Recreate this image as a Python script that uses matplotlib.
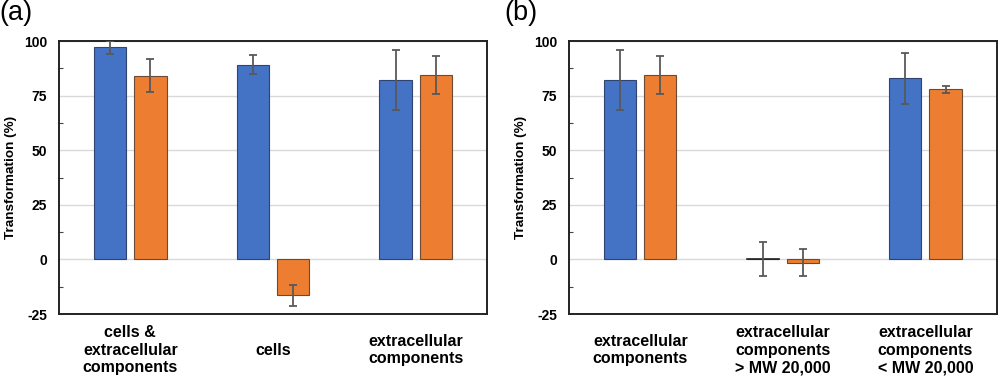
import matplotlib
matplotlib.use("Agg")
import matplotlib.pyplot as plt
import numpy as np

plt.rcParams['font.family'] = ['Liberation Sans', 'DejaVu Sans']

# Panel (a)
cats_a = ["cells &\nextracellular\ncomponents", "cells", "extracellular\ncomponents"]
blue_a = [97.1, 89.2, 82.2]
blue_err_a = [3.0, 4.5, 13.6]
orange_a = [84.1, -16.5, 84.4]
orange_err_a = [7.5, 5.0, 8.7]

# Panel (b)
cats_b = ["extracellular\ncomponents", "extracellular\ncomponents\n> MW 20,000",
          "extracellular\ncomponents\n< MW 20,000"]
blue_b = [82.3, 0.0, 82.9]
blue_err_b = [13.7, 7.8, 11.6]
orange_b = [84.4, -1.5, 78.0]
orange_err_b = [8.7, 6.3, 1.6]

yticks = [-25, 0, 25, 50, 75, 100]

BLUE = "#4472C4"
ORANGE = "#ED7D31"

fig = plt.figure(figsize=(10, 3.79), dpi=100)
ax_a = fig.add_axes([0.059, 0.1715, 0.428, 0.7203])
ax_b = fig.add_axes([0.569, 0.1715, 0.4277, 0.7203])

def draw(ax, cats, b, be, o, oe, tag, tagx):
    x = np.arange(len(cats))
    w = 0.226
    off = 0.141
    ax.bar(x - off, b, w, color=BLUE, edgecolor="#2f4470", linewidth=0.8, zorder=3)
    ax.bar(x + off, o, w, color=ORANGE, edgecolor="#6b4a33", linewidth=0.8, zorder=3)
    # zero-height bars drawn as a dark line
    for xi, v in zip(x - off, b):
        if v == 0:
            ax.plot([xi - w / 2, xi + w / 2], [0, 0], color="#222222", lw=1.2, zorder=4)
    ax.errorbar(x - off, b, yerr=be, fmt="none", ecolor="#595959", elinewidth=1.3,
                capsize=3, capthick=1.3, zorder=5)
    ax.errorbar(x + off, o, yerr=oe, fmt="none", ecolor="#595959", elinewidth=1.3,
                capsize=3, capthick=1.3, zorder=5)
    ax.set_xlim(-0.5, len(cats) - 0.5)
    ax.set_ylim(-25, 100)
    ax.set_yticks(yticks)
    ax.set_yticklabels([str(t) for t in yticks], fontsize=10, fontweight="bold")
    ax.set_yticks(np.arange(-12.5, 100, 25), minor=True)
    ax.tick_params(axis="y", which="major", length=0, pad=8.5)
    ax.tick_params(axis="y", which="minor", direction="in", length=3, width=0.8, color="#444444")
    ax.yaxis.grid(True, which="major", color="#d9d9d9", linewidth=1.0, zorder=0)
    ax.set_axisbelow(True)
    ax.set_xticks(x)
    ax.set_xticklabels(cats, fontsize=11.5, fontweight="bold")
    for lab in ax.get_xticklabels():
        lab.set_verticalalignment("center")
        lab.set_linespacing(1.2)
    ax.tick_params(axis="x", length=0, pad=26)
    for s in ax.spines.values():
        s.set_linewidth(1.4)
        s.set_color("#222222")
    ax.set_ylabel("Transformation (%)", fontsize=9.7, fontweight="bold", labelpad=5)
    fig.text(tagx, 1 - 19.5 / 379, tag, fontsize=19.5, ha="left", va="baseline")

draw(ax_a, cats_a, blue_a, blue_err_a, orange_a, orange_err_a, "(a)", -0.001)
draw(ax_b, cats_b, blue_b, blue_err_b, orange_b, orange_err_b, "(b)", 0.504)

fig.savefig("out.png", dpi=100)
